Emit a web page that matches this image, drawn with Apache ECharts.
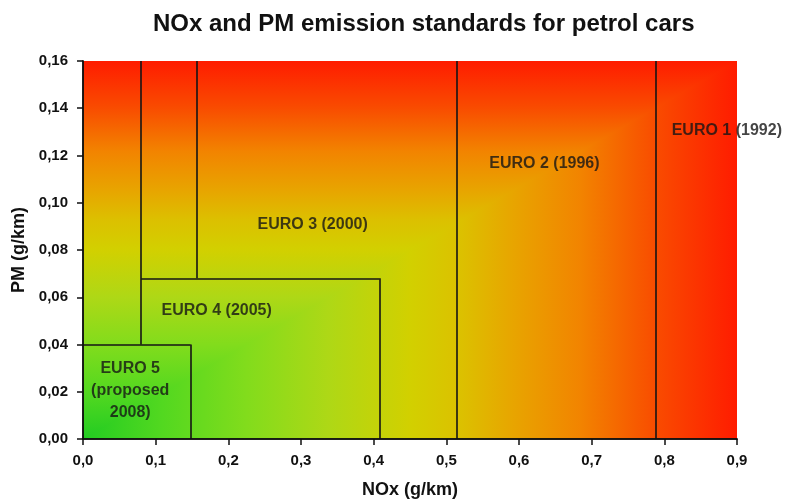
<!DOCTYPE html>
<html>
<head>
<meta charset="utf-8">
<style>html,body{margin:0;padding:0;background:#fff;}#c{width:800px;height:500px;}</style>
<script src="https://cdn.jsdelivr.net/npm/echarts@6/dist/echarts.min.js"></script>
</head>
<body>
<div id="c"></div>
<script>
// Axis ranges (g/km)
var noxRange = [0, 0.9];
var pmRange = [0, 0.16];

// Boundary segments of the standard regions: [x1, y1, x2, y2] (NOx, PM)
var segStartX = [0.08, 0.157, 0.515, 0.788, 0.08, 0.408, 0.0, 0.148];
var segStartY = [0.04, 0.068, 0.0, 0.0, 0.068, 0.0, 0.04, 0.0];
var segEndX   = [0.08, 0.157, 0.515, 0.788, 0.408, 0.408, 0.148, 0.148];
var segEndY   = [0.16, 0.16, 0.16, 0.16, 0.068, 0.068, 0.04, 0.04];

// Region labels
var labelNames = ['EURO 5\n(proposed\n2008)', 'EURO 4 (2005)', 'EURO 3 (2000)', 'EURO 2 (1996)', 'EURO 1 (1992)'];
var labelNox = [0.065, 0.184, 0.316, 0.635, 0.886];
var labelPm  = [0.0205, 0.0543, 0.0909, 0.1166, 0.1307];

// Rectangular ("from corner") background gradient stops
var stops = [
  {offset: 0, color: '#22cc22'},
  {offset: 0.12, color: '#52d820'},
  {offset: 0.25, color: '#82dc1c'},
  {offset: 0.375, color: '#aed816'},
  {offset: 0.5, color: '#d2d000'},
  {offset: 0.58, color: '#dcc000'},
  {offset: 0.66, color: '#e8a400'},
  {offset: 0.76, color: '#f28400'},
  {offset: 0.88, color: '#f94a00'},
  {offset: 1, color: '#ff1c00'}
];

var segData = segStartX.map(function (x, i) {
  return {coords: [[x, segStartY[i]], [segEndX[i], segEndY[i]]]};
});
var labelData = labelNames.map(function (n, i) {
  return {name: n, value: [labelNox[i], labelPm[i]]};
});

var chart = echarts.init(document.getElementById('c'));
var fontFam = '"Liberation Sans", Arial, sans-serif';
chart.setOption({
  animation: false,
  title: {
    text: 'NOx and PM emission standards for petrol cars',
    left: 148, top: 7,
    textStyle: {fontFamily: fontFam, fontSize: 24, fontWeight: 'bold', color: '#111'}
  },
  grid: {left: 83, right: 63, top: 61, bottom: 61, outerBoundsMode: 'none', containLabel: false},
  xAxis: [{
    type: 'value', min: noxRange[0], max: noxRange[1], interval: 0.1, z: 10,
    name: 'NOx (g/km)', nameLocation: 'middle', nameGap: 42,
    nameTextStyle: {fontFamily: fontFam, fontSize: 18, fontWeight: 'bold', color: '#111'},
    axisLine: {lineStyle: {color: '#111', width: 1.5}},
    axisTick: {length: 6, lineStyle: {color: '#111', width: 1.5}},
    axisLabel: {margin: 14, fontFamily: fontFam, fontSize: 15, fontWeight: 'bold', color: '#111',
      formatter: function (v) { return v.toFixed(1).replace('.', ','); }},
    splitLine: {show: false}
  }, {
    type: 'value', position: 'top', min: noxRange[0], max: noxRange[1], z: 10,
    axisLine: {show: true, lineStyle: {color: '#111', width: 1.5}},
    axisTick: {show: false}, axisLabel: {show: false}, splitLine: {show: false}
  }],
  yAxis: [{
    type: 'value', min: pmRange[0], max: pmRange[1], interval: 0.02, z: 10,
    name: 'PM (g/km)', nameLocation: 'middle', nameGap: 50,
    nameTextStyle: {fontFamily: fontFam, fontSize: 18, fontWeight: 'bold', color: '#111'},
    axisLine: {show: true, lineStyle: {color: '#111', width: 1.5}},
    axisTick: {show: true, length: 6, lineStyle: {color: '#111', width: 1.5}},
    axisLabel: {margin: 15, fontFamily: fontFam, fontSize: 15, fontWeight: 'bold', color: '#111',
      formatter: function (v) { return v.toFixed(2).replace('.', ','); }},
    splitLine: {show: false}
  }, {
    type: 'value', position: 'right', min: pmRange[0], max: pmRange[1], z: 10,
    axisLine: {show: true, lineStyle: {color: '#111', width: 1.5}},
    axisTick: {show: false}, axisLabel: {show: false}, splitLine: {show: false}
  }],
  series: [{
    type: 'custom', silent: true, z: 0,
    data: [[noxRange[0], pmRange[0]]],
    renderItem: function (params, api) {
      var bl = api.coord([noxRange[0], pmRange[0]]);
      var tr = api.coord([noxRange[1], pmRange[1]]);
      var br = [tr[0], bl[1]];
      var tl = [bl[0], tr[1]];
      return {
        type: 'group',
        children: [{
          type: 'rect',
          shape: {x: tl[0], y: tl[1], width: tr[0] - tl[0], height: bl[1] - tl[1]},
          style: {fill: new echarts.graphic.LinearGradient(0, 1, 0, 0, stops)}
        }, {
          type: 'polygon',
          shape: {points: [bl, br, tr]},
          style: {fill: new echarts.graphic.LinearGradient(0, 0, 1, 0, stops)}
        }]
      };
    }
  }, {
    type: 'lines', coordinateSystem: 'cartesian2d', silent: true, z: 3,
    lineStyle: {color: '#151515', width: 1.6, opacity: 1},
    data: segData
  }, {
    type: 'scatter', symbolSize: 0, silent: true, z: 4,
    label: {show: true, position: 'inside', formatter: '{b}', align: 'center',
      fontFamily: fontFam, fontSize: 16, fontWeight: 'bold', color: '#151515', lineHeight: 22},
    data: labelData
  }]
});
</script>
</body>
</html>
